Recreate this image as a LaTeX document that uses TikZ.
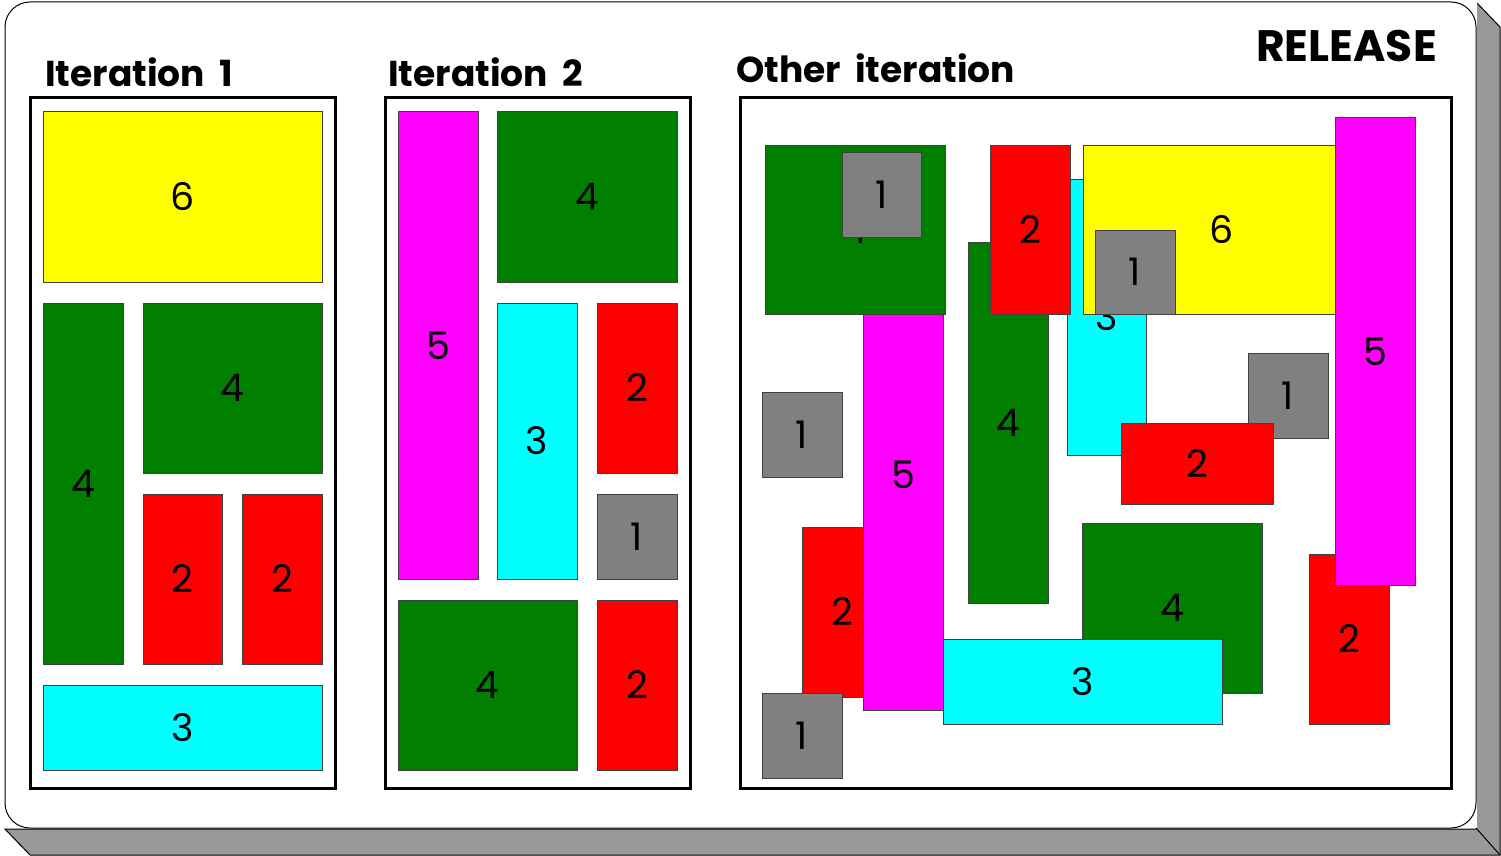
\documentclass[tikz,border=0pt]{standalone}
\usepackage{fontspec}
\setmainfont{Poppins}
\definecolor{cgreen}{HTML}{007F00}
\definecolor{cred}{HTML}{FF0000}
\definecolor{cyell}{HTML}{FFFF00}
\definecolor{ccyan}{HTML}{00FFFF}
\definecolor{cmag}{HTML}{FF00FF}
\definecolor{cgray}{HTML}{808080}
\definecolor{cshadow}{HTML}{999999}
\tikzset{
  blk/.style={draw=black!75, line width=1pt, inner sep=0pt, outer sep=0pt,
    font=\fontsize{38}{40}\selectfont},
  container/.style={draw=black, line width=3pt},
  title/.style={font=\fontsize{36}{40}\selectfont\bfseries, inner sep=0pt},
}
\newcommand\blk[7]{%
  \node[blk, fill=#6, minimum width={(#4-#2)*1pt}, minimum height={(#5-#3)*1pt}]
    (#1) at ({(#2+#4)/2},{(#3+#5)/2}) {#7};}
\begin{document}
\begin{tikzpicture}[x=1pt,y=-1pt]
\useasboundingbox (0,0) rectangle (1501,856);
% shadow
\path[fill=cshadow] (1477,3) -- (1500,27) -- (1500,855) -- (30,855) -- (5,829) -- (1477,829) -- cycle;
\draw[line width=1pt] (1477,3) -- (1500,27) -- (1500,855) -- (30,855) -- (5,829) -- (1476,829);
\draw[line width=1pt] (1476,828) -- (1500,855);
% board
\draw[fill=white, line width=1pt, rounded corners=25pt] (5,2) rectangle (1476,828);
% titles
\node[title, anchor=base west] (t1) at (45,87) {Iteration\hspace{0.4em}1};
\node[title, anchor=base west] (t2) at (388,87) {Iteration\hspace{0.4em}2};
\node[title, anchor=base west] (t3) at (736,83) {Other\hspace{0.4em}iteration};
\node[title, anchor=base east, font=\fontsize{44}{48}\selectfont\bfseries] (t4) at (1437,62) {RELEASE};
% containers
\draw[container] (30,98) rectangle (335,788);
\draw[container] (385,98) rectangle (690,788);
\draw[container] (740,98) rectangle (1451,788);
% Iteration 1
\blk{ia}{43}{112}{322}{282}{cyell}{6}
\blk{ib}{43}{303}{123}{664}{cgreen}{4}
\blk{ic}{143}{303}{322}{473}{cgreen}{4}
\blk{id}{143}{494}{222}{664}{cred}{2}
\blk{ie}{242}{494}{322}{664}{cred}{2}
\blk{if}{43}{685}{322}{770}{ccyan}{3}
% Iteration 2
\blk{ja}{398}{112}{478}{579}{cmag}{5}
\blk{jb}{497}{112}{677}{282}{cgreen}{4}
\blk{jc}{497}{303}{577}{579}{ccyan}{3}
\blk{jd}{597}{303}{677}{473}{cred}{2}
\blk{je}{597}{494}{677}{579}{cgray}{1}
\blk{jf}{398}{600}{577}{770}{cgreen}{4}
\blk{jg}{597}{600}{677}{770}{cred}{2}
% Other iteration
\blk{o1}{802}{527}{882}{697}{cred}{2}
\blk{o2}{863}{240}{943}{710}{cmag}{5}
\blk{o3}{765}{145}{945}{314}{cgreen}{4}
\blk{o4}{842}{152}{921}{237}{cgray}{1}
\blk{o5}{762}{392}{842}{477}{cgray}{1}
\blk{o6}{762}{693}{842}{778}{cgray}{1}
\blk{o7}{968}{242}{1048}{603}{cgreen}{4}
\blk{o8}{1067}{179}{1146}{455}{ccyan}{3}
\blk{o9}{990}{145}{1070}{314}{cred}{2}
\blk{o10}{1083}{145}{1360}{314}{cyell}{6}
\blk{o11}{1095}{230}{1175}{314}{cgray}{1}
\blk{o12}{1248}{353}{1328}{438}{cgray}{1}
\blk{o13}{1121}{423}{1273}{504}{cred}{2}
\blk{o14}{1309}{554}{1389}{724}{cred}{2}
\blk{o15}{1335}{118}{1415}{585}{cmag}{5}
\blk{o16}{1082}{523}{1262}{693}{cgreen}{4}
\blk{o17}{943}{639}{1222}{724}{ccyan}{3}
\end{tikzpicture}
\end{document}
